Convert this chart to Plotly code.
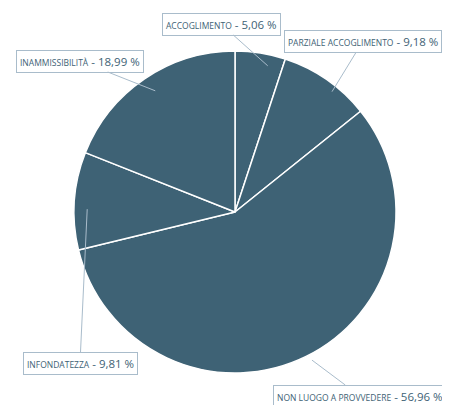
import math
import plotly.graph_objects as go

labels = ["ACCOGLIMENTO", "PARZIALE ACCOGLIMENTO", "NON LUOGO A PROVVEDERE",
          "INFONDATEZZA", "INAMMISSIBILITÀ"]
values = [5.06, 9.18, 56.96, 9.81, 18.99]
value_text = ["5,06 %", "9,18 %", "56,96 %", "9,81 %", "18,99 %"]
# label box centres in pixels
label_pos = [(213, 16), (355, 33), (352, 388), (72, 355), (72, 53)]

W, H = 450, 405
cx, cy, r = 235, 212, 161
color = "#3e6275"
shift = 8  # plotly renders the pie a few pixels right/down

fig = go.Figure(go.Pie(
    labels=labels, values=values, sort=False, direction="clockwise", rotation=0,
    marker=dict(colors=[color] * 5, line=dict(color="white", width=1.5)),
    textinfo="none", hoverinfo="label+value", showlegend=False,
    domain=dict(x=[(cx - r - shift) / W, (cx + r - shift) / W],
                y=[1 - (cy + r - shift) / H, 1 - (cy - r - shift) / H]),
))

total = sum(values)
cum = 0
for lab, v, vt, (lx, ly) in zip(labels, values, value_text, label_pos):
    mid = (cum + v / 2) / total
    cum += v
    a = 2 * math.pi * mid
    tx = cx + r * 0.97 * math.sin(a)
    ty = cy - r * 0.97 * math.cos(a)
    fig.add_annotation(
        x=tx / W, y=1 - ty / H, xref="paper", yref="paper",
        ax=lx - tx, ay=ly - ty,
        text=f"<span style='font-size:8.5px'>{lab}</span> - {vt}",
        showarrow=True, arrowhead=0, arrowwidth=1, arrowcolor="#a9bccb",
        bordercolor="#a9bccb", borderwidth=1, borderpad=3, bgcolor="white",
        font=dict(family="Open Sans", size=11.5, color=color),
    )

fig.update_layout(width=W, height=H, margin=dict(l=0, r=0, t=0, b=0),
                  paper_bgcolor="white", plot_bgcolor="white")
fig.write_html("out.html")
